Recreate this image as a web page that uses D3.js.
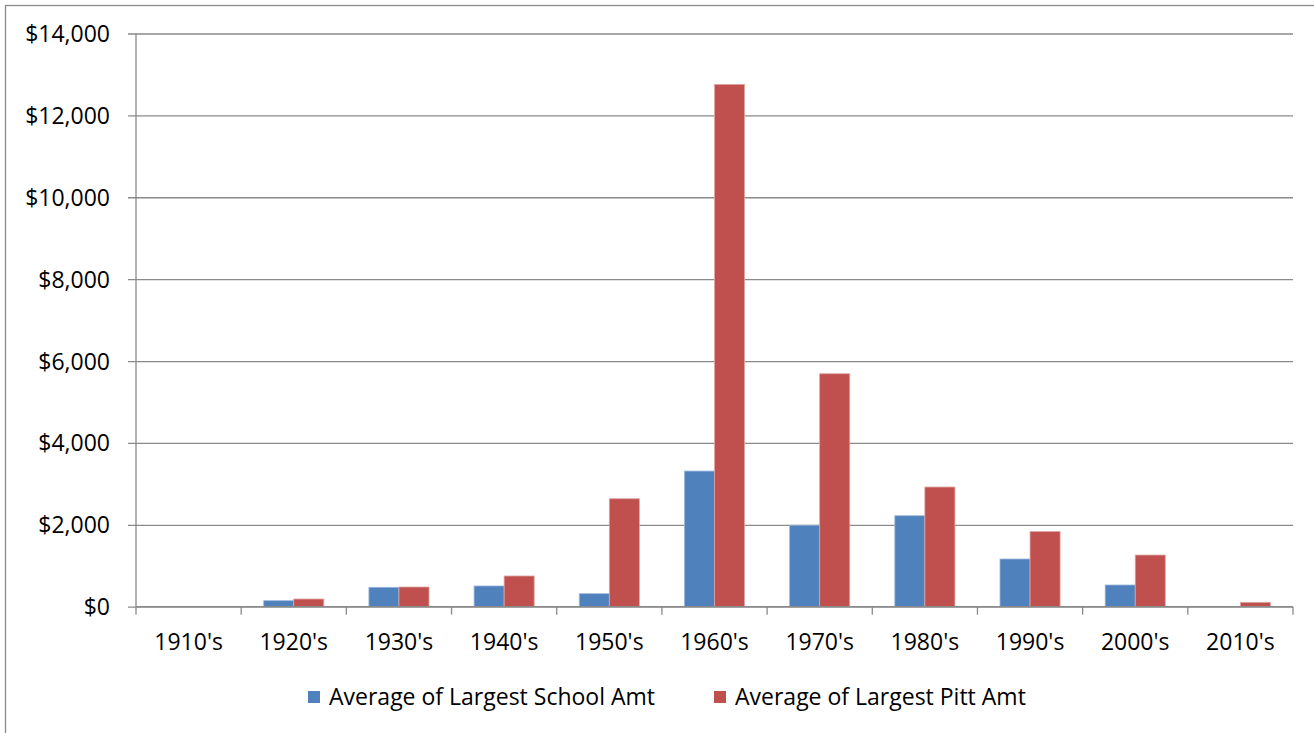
<!DOCTYPE html>
<html>
<head>
<meta charset="utf-8">
<script src="https://cdn.jsdelivr.net/npm/d3@7/dist/d3.min.js"></script>
<style>
  html, body { margin: 0; padding: 0; background: #fff; }
  svg { display: block; }
  svg text { font-family: "Open Sans", "Noto Sans", sans-serif; }
</style>
</head>
<body>
<svg id="chart" width="1314" height="733"></svg>
<script>
// Decades on the x axis
const decades = ["1910's", "1920's", "1930's", "1940's", "1950's", "1960's", "1970's", "1980's", "1990's", "2000's", "2010's"];
// Series names
const seriesNames = ["Average of Largest School Amt", "Average of Largest Pitt Amt"];
// Average of largest school amount per decade
const schoolAmt = [0, 147, 474, 506, 318, 3313, 1990, 2222, 1165, 530, 0];
// Average of largest Pitt amount per decade
const pittAmt = [0, 188, 481, 750, 2637, 12757, 5690, 2923, 1835, 1262, 107];
// Y axis ticks
const yTicks = [0, 2000, 4000, 6000, 8000, 10000, 12000, 14000];

const colors = ["#4F81BD", "#C0504D"];
const strokes = ["#9db7dc", "#e0a5a3"];
const gridColor = "#8a8a8a";
const fontSize = "23px";
const fontFamily = "'Open Sans', 'Noto Sans', sans-serif";

const svg = d3.select("#chart");
const margin = { left: 136, right: 21, top: 33.5, bottom: 126.3 };
const W = 1314, H = 733;
const x0 = margin.left, x1 = W - margin.right;
const yTop = margin.top, yBot = H - margin.bottom;

// Outer chart frame (extends past the right/bottom edges)
svg.append("rect")
  .attr("x", 5.5).attr("y", 5.5)
  .attr("width", 1400).attr("height", 800)
  .attr("fill", "none").attr("stroke", gridColor).attr("stroke-width", 1.3);

const x = d3.scaleBand().domain(decades).range([x0, x1]).paddingInner(0).paddingOuter(0);
const xs = d3.scaleBand().domain(seriesNames).range([0, x.bandwidth()]).paddingInner(0).paddingOuter(0.75);
const y = d3.scaleLinear().domain([0, 14000]).range([yBot, yTop]);

// Horizontal gridlines with left tick marks
const yAxis = d3.axisLeft(y).tickValues(yTicks)
  .tickSize(-(x1 - x0)).tickPadding(26)
  .tickFormat(d => "$" + d3.format(",")(d));
const gy = svg.append("g").attr("transform", `translate(${x0},0)`).call(yAxis)
  .attr("font-family", fontFamily).attr("font-size", fontSize);
gy.select(".domain").remove();
gy.selectAll(".tick line")
  .attr("x1", -8).attr("x2", x1 - x0)
  .attr("stroke", gridColor).attr("stroke-width", 1.3);
gy.selectAll(".tick text")
  .attr("fill", "#000").attr("dy", "0.35em");

// Vertical axis line
svg.append("line")
  .attr("x1", x0).attr("x2", x0).attr("y1", yTop).attr("y2", yBot)
  .attr("stroke", gridColor).attr("stroke-width", 1.3);

// Bars
const data = decades.map((d, i) => ({ decade: d, values: [schoolAmt[i], pittAmt[i]] }));
const groups = svg.append("g").selectAll("g").data(data).join("g")
  .attr("transform", d => `translate(${x(d.decade)},0)`);
groups.selectAll("rect")
  .data(d => d.values.map((v, j) => ({ key: seriesNames[j], v, j })))
  .join("rect")
  .filter(d => d.v > 0)
  .attr("x", d => xs(d.key))
  .attr("y", d => y(d.v))
  .attr("width", xs.bandwidth())
  .attr("height", d => yBot - y(d.v))
  .attr("fill", d => colors[d.j])
  .attr("stroke", d => strokes[d.j])
  .attr("stroke-width", 0.8);

// X axis with ticks between categories
const boundaries = decades.map(d => x(d)).concat([x1]);
const gx = svg.append("g");
gx.append("line")
  .attr("x1", x0).attr("x2", x1).attr("y1", yBot).attr("y2", yBot)
  .attr("stroke", gridColor).attr("stroke-width", 1.3);
gx.selectAll("line.tk").data(boundaries).join("line").attr("class", "tk")
  .attr("x1", d => d).attr("x2", d => d)
  .attr("y1", yBot).attr("y2", yBot + 8)
  .attr("stroke", gridColor).attr("stroke-width", 1.3);
gx.selectAll("text").data(decades).join("text")
  .attr("x", d => x(d) + x.bandwidth() / 2)
  .attr("y", yBot + 43)
  .attr("text-anchor", "middle")
  .style("font-size", fontSize)
  .text(d => d);

// Legend
const legendItems = [
  { name: seriesNames[0], color: colors[0], sx: 308 },
  { name: seriesNames[1], color: colors[1], sx: 714 }
];
const lg = svg.append("g").selectAll("g").data(legendItems).join("g");
lg.append("rect")
  .attr("x", d => d.sx).attr("y", 691)
  .attr("width", 12).attr("height", 12)
  .attr("fill", d => d.color);
lg.append("text")
  .attr("x", d => d.sx + 21).attr("y", 705)
  .style("font-size", fontSize)
  .text(d => d.name);
</script>
</body>
</html>
